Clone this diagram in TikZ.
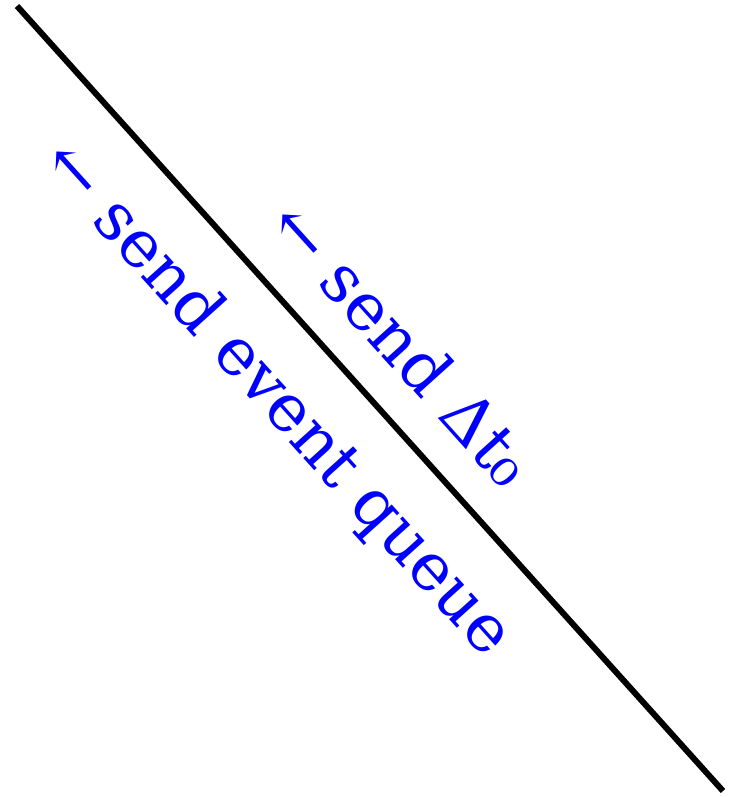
\documentclass[tikz,border=0pt]{standalone}
\usepackage{fontspec}
\setmainfont{DejaVu Serif}
\usepackage{tikz}
\usetikzlibrary{positioning}
\tikzset{sendlabel/.style={text=blue, font=\fontsize{33}{39}\selectfont, rotate=-48, inner sep=0pt}}

\begin{document}
\begin{tikzpicture}[x=0.5pt, y=-0.5pt]
\useasboundingbox (0,0) rectangle (729,797);
\coordinate (top) at (17,6);
\coordinate (bottom) at (723,791);
\draw[line width=3pt] (top) -- (bottom);
\node[sendlabel] (delta) at (403,343) {← send Δt₀};
\node[sendlabel] (queue) at (276,400) {← send event queue};
\end{tikzpicture}
\end{document}
